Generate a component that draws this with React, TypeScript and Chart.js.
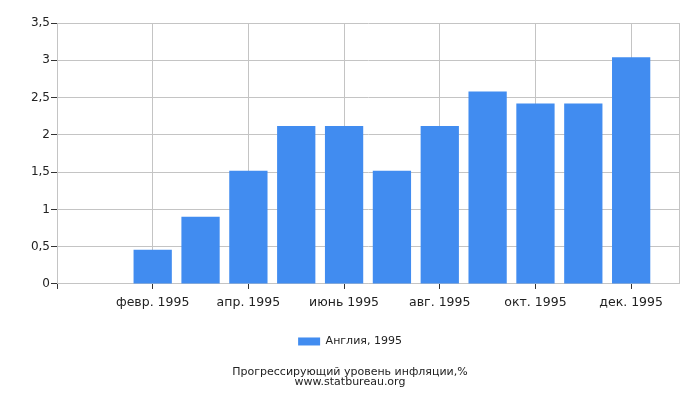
import { useEffect, useRef } from 'react';
import { Chart, ChartConfiguration, registerables } from 'chart.js';

Chart.register(...registerables);

// Padding slots at both ends keep the months where the original puts them
const months = [
  '',
  'янв. 1995',
  'февр. 1995',
  'март 1995',
  'апр. 1995',
  'май 1995',
  'июнь 1995',
  'июль 1995',
  'авг. 1995',
  'сент. 1995',
  'окт. 1995',
  'нояб. 1995',
  'дек. 1995',
  '',
];
const inflation = [null, 0, 0.46, 0.9, 1.52, 2.12, 2.12, 1.52, 2.12, 2.58, 2.42, 2.42, 3.04, null];
const yTicks = [0, 0.5, 1, 1.5, 2, 2.5, 3, 3.5];
const seriesLabel = 'Англия, 1995';
const titleLines = ['Прогрессирующий уровень инфляции,%', 'www.statbureau.org'];

const GRID = '#c4c4c4';
const TICK = '#333333';
const TEXT = '#222222';

const App = () => {
  const canvasRef = useRef<HTMLCanvasElement>(null);
  const chartRef = useRef<Chart | null>(null);

  useEffect(() => {
    if (!canvasRef.current) return;
    const ctx = canvasRef.current.getContext('2d');
    if (!ctx) return;

    Chart.defaults.font.family = '"DejaVu Sans", sans-serif';

    const config: ChartConfiguration = {
      type: 'bar',
      data: {
        labels: months,
        datasets: [
          {
            label: seriesLabel,
            data: inflation as any,
            backgroundColor: '#418cf0',
            borderWidth: 0,
            barPercentage: 0.8,
            categoryPercentage: 1,
          },
        ],
      },
      options: {
        animation: false,
        responsive: false,
        devicePixelRatio: 1,
        layout: {
          padding: { left: 0, right: 0, top: 23, bottom: 0 },
        },
        plugins: {
          tooltip: { enabled: false },
          legend: {
            position: 'bottom',
            labels: {
              boxWidth: 22,
              boxHeight: 8,
              padding: 10,
              color: TEXT,
              font: { size: 11 },
            },
          },
          title: {
            display: true,
            position: 'bottom',
            text: titleLines,
            color: TEXT,
            font: { size: 11, weight: 'normal', lineHeight: 0.91 },
            padding: { top: 10, bottom: 13 },
          },
        },
        scales: {
          x: {
            offset: false,
            afterFit: (scale: any) => {
              scale.height = 42;
            },
            grid: {
              offset: false,
              color: (c: any) => (c.index === 13 || c.index % 2 === 0 ? GRID : 'rgba(0,0,0,0)'),
              tickColor: (c: any) => (c.index % 2 === 0 && c.index !== 13 ? TICK : 'rgba(0,0,0,0)'),
              tickLength: 5,
            },
            border: { color: GRID },
            ticks: {
              autoSkip: false,
              maxRotation: 0,
              padding: 6,
              color: TEXT,
              font: { size: 12.5 },
              callback: (_v: any, i: number) => (i % 2 === 0 && i > 0 && i < 13 ? months[i] : ''),
            },
          },
          y: {
            min: 0,
            max: 3.5,
            afterFit: (scale: any) => {
              scale.width = 57;
            },
            afterBuildTicks: (scale: any) => {
              scale.ticks = yTicks.map((v) => ({ value: v }));
            },
            grid: {
              color: GRID,
              tickColor: TICK,
              tickLength: 6,
            },
            border: { color: GRID },
            ticks: {
              padding: 1,
              color: TEXT,
              font: { size: 12 },
              callback: (v: any) => String(v).replace('.', ','),
            },
          },
          // empty right-hand strip so legend and title stay centred on the page
          spacer: {
            type: 'linear',
            position: 'right',
            display: true,
            afterFit: (scale: any) => {
              scale.width = 21;
            },
            grid: { display: false, drawTicks: false },
            border: { display: false },
            ticks: { display: false },
          },
        },
      },
    };

    chartRef.current = new Chart(ctx, config);

    return () => {
      if (chartRef.current) {
        chartRef.current.destroy();
      }
    };
  }, []);

  return (
    <div style={{ position: 'fixed', left: 0, top: 0, width: 700, height: 400, background: '#fff' }}>
      <canvas ref={canvasRef} width={700} height={400}></canvas>
    </div>
  );
};

export default App;
